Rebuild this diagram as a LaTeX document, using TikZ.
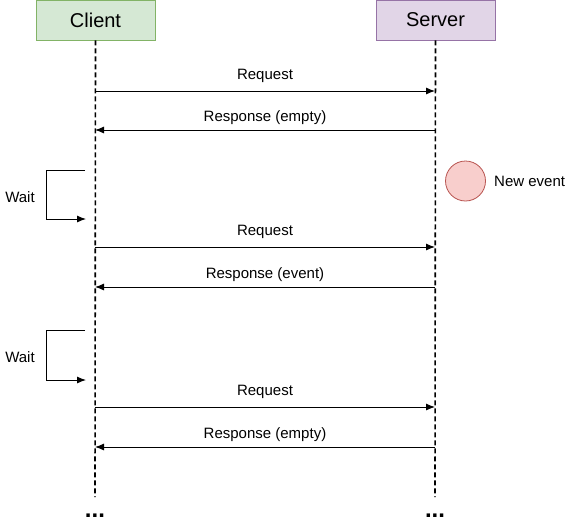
\documentclass[tikz,border=0pt]{standalone}
\usepackage{fontspec}
\setmainfont{Liberation Sans}
\usetikzlibrary{arrows.meta}
\definecolor{cfill}{HTML}{D5E8D4}
\definecolor{cdraw}{HTML}{82B366}
\definecolor{sfill}{HTML}{E1D5E7}
\definecolor{sdraw}{HTML}{9673A6}
\definecolor{efill}{HTML}{F8CECC}
\definecolor{edraw}{HTML}{B85450}
\tikzset{
  actor/.style={draw=#1, line width=0.8pt, minimum width=119pt, minimum height=40pt, inner sep=0pt, font=\fontsize{20}{22}\selectfont},
  lifeline/.style={line width=1.6pt, dash pattern=on 5pt off 3pt},
  msg/.style={line width=0.9pt, -{Latex[length=9pt,width=7pt]}},
  lbl/.style={font=\fontsize{15}{17}\selectfont, inner sep=0pt},
  dots/.style={font=\fontsize{24}{26}\selectfont\bfseries, inner sep=0pt},
}
\begin{document}
\begin{tikzpicture}[x=1pt,y=-1pt]
\useasboundingbox (0,0) rectangle (586,525);
\node[actor=cdraw, fill=cfill] (client) at (95.5,20) {Client};
\node[actor=sdraw, fill=sfill] (server) at (435.5,20) {Server};
\coordinate (cend) at (95,497);
\coordinate (send) at (435,497);
\draw[lifeline] (client.south) -- (cend);
\draw[lifeline] (server.south) -- (send);
\node[dots] (cdots) at (95,516) {...};
\node[dots] (sdots) at (435,516) {...};
% messages
\foreach \y/\n in {91/r1,130/a1,247/r2,287/a2,407/r3,447/a3}{
  \coordinate (c\n) at (95,\y);
  \coordinate (s\n) at (435,\y);
}
\draw[msg] (cr1) -- (sr1) node[lbl, pos=0.5, above=8pt] (lr1) {Request};
\draw[msg] (sa1) -- (ca1) node[lbl, pos=0.5, above=5pt] (la1) {Response (empty)};
\draw[msg] (cr2) -- (sr2) node[lbl, pos=0.5, above=8pt] (lr2) {Request};
\draw[msg] (sa2) -- (ca2) node[lbl, pos=0.5, above=5pt] (la2) {Response (event)};
\draw[msg] (cr3) -- (sr3) node[lbl, pos=0.5, above=8pt] (lr3) {Request};
\draw[msg] (sa3) -- (ca3) node[lbl, pos=0.5, above=5pt] (la3) {Response (empty)};
% waits
\coordinate (w1a) at (85,170);
\coordinate (w1b) at (86,219);
\draw[msg] (w1a) -- (46,170) -- (46,219) -- (w1b);
\node[lbl] (w1) at (20,197) {Wait};
\coordinate (w2a) at (85,330);
\coordinate (w2b) at (86,380);
\draw[msg] (w2a) -- (46,330) -- (46,380) -- (w2b);
\node[lbl] (w2) at (20,357) {Wait};
% new event
\node[circle, draw=edraw, fill=efill, line width=0.8pt, minimum size=40pt, inner sep=0pt] (ev) at (465.5,181) {};
\node[lbl, anchor=west] (evl) at (494,181) {New event};
\end{tikzpicture}
\end{document}
